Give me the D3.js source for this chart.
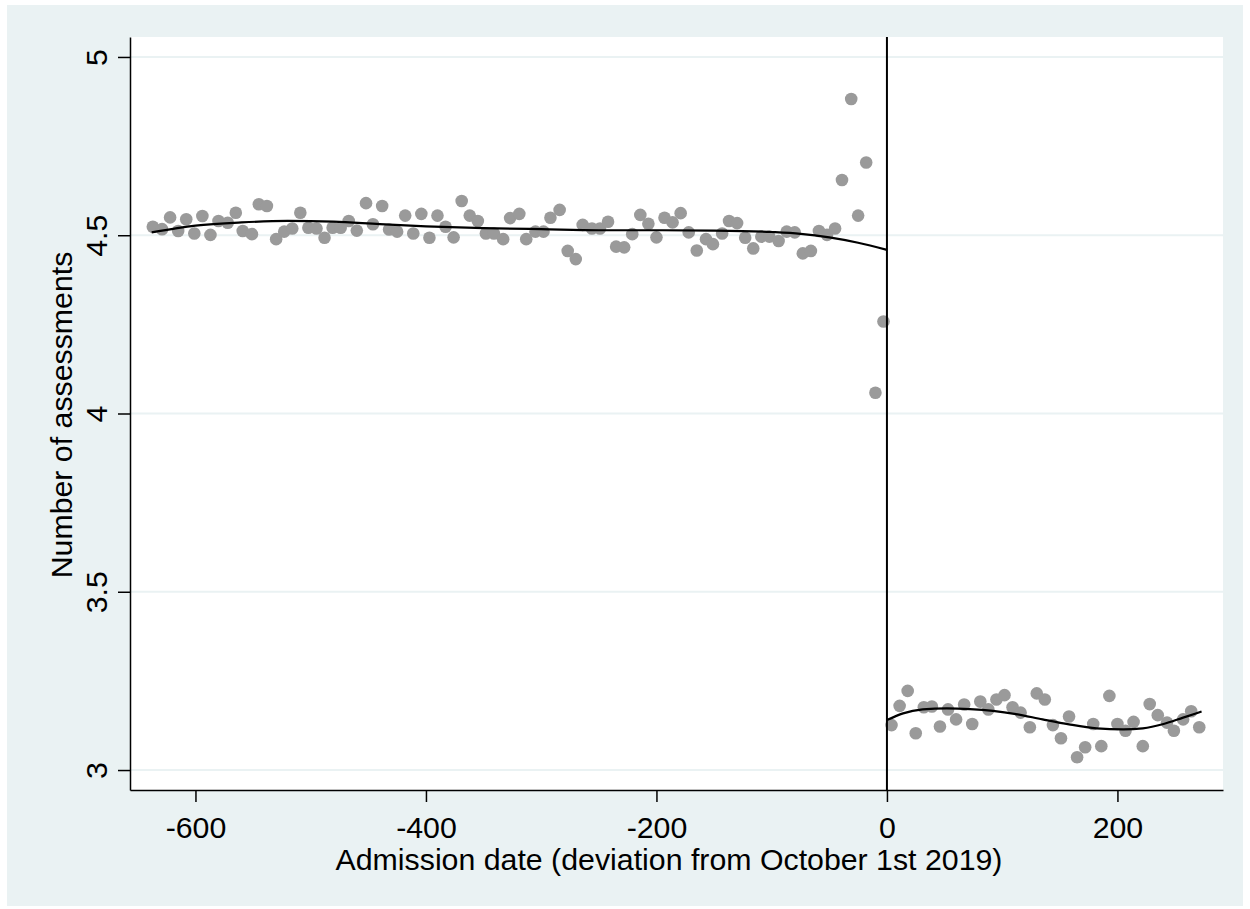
<!DOCTYPE html>
<html>
<head>
<meta charset="utf-8">
<script src="https://cdn.jsdelivr.net/npm/d3@7"></script>
<style>
  body { margin: 0; background: #ffffff; }
  text { font-family: "Liberation Sans", Arial, sans-serif; }
</style>
</head>
<body>
<div id="chart"></div>
<script>
// weekly bins before October 1st 2019 (days)
var preDays = [-637,-629,-622,-615,-608,-601,-594,-587,-580,-572,
    -565,-559,-551,-545,-538,-530,-523,-516,-509,-502,
    -495,-488,-481,-474,-467,-460,-452,-446,-438,-432,
    -425,-418,-411,-404,-397,-390,-383,-376,-369,-362,
    -355,-348,-341,-333,-327,-319,-313,-305,-298,-292,
    -284,-277,-270,-264,-256,-249,-242,-235,-228,-221,
    -214,-207,-200,-193,-186,-179,-172,-165,-157,-151,
    -143,-137,-130,-123,-116,-109,-102,-94,-87,-80,
    -73,-66,-59,-52,-45,-39,-31,-25,-18,-10,
    -3];
var preValues = [4.524,4.517,4.550,4.512,4.545,4.505,4.554,4.501,4.540,4.535,
    4.563,4.512,4.503,4.587,4.582,4.489,4.510,4.519,4.563,4.521,
    4.519,4.493,4.521,4.521,4.540,4.513,4.590,4.531,4.582,4.516,
    4.510,4.555,4.505,4.560,4.493,4.555,4.524,4.494,4.596,4.555,
    4.540,4.505,4.505,4.489,4.548,4.560,4.489,4.510,4.510,4.549,
    4.571,4.456,4.433,4.529,4.519,4.519,4.538,4.468,4.466,4.503,
    4.557,4.532,4.494,4.549,4.536,4.562,4.508,4.457,4.489,4.475,
    4.505,4.540,4.534,4.493,4.463,4.496,4.496,4.484,4.510,4.508,
    4.449,4.456,4.512,4.501,4.519,4.655,4.882,4.555,4.704,4.058,
    4.258];

// weekly bins after
var postDays = [4,11,18,25,32,39,46,53,60,67,
    74,81,88,95,102,109,116,124,130,137,
    144,151,158,165,172,179,186,193,200,207,
    214,222,228,235,243,249,257,264,271];
var postValues = [3.126,3.180,3.222,3.103,3.176,3.178,3.122,3.170,3.142,3.184,
    3.129,3.192,3.170,3.198,3.210,3.176,3.161,3.120,3.215,3.198,
    3.126,3.089,3.150,3.036,3.064,3.129,3.067,3.208,3.129,3.110,
    3.135,3.067,3.185,3.154,3.133,3.110,3.142,3.165,3.120];

// fitted curves
var preFitDays = [-638,-600,-560,-520,-480,-440,-400,-350,-300,-250,-200,-150,-100,-75,-50,-25,0];
var preFitValues = [4.508,4.527,4.536,4.540,4.538,4.531,4.525,4.520,4.517,4.514,4.514,4.513,4.509,4.504,4.494,4.479,4.459];
var postFitDays = [0,14,31,52,72,92,112,135,158,182,205,222,240,257,273];
var postFitValues = [3.140,3.159,3.170,3.173,3.171,3.166,3.157,3.142,3.128,3.117,3.114,3.117,3.129,3.147,3.164];

var xTicks = [-600, -400, -200, 0, 200];
var yTicks = [3, 3.5, 4, 4.5, 5];

var W = 1250, H = 909;
var margin = { top: 37, right: 27, bottom: 119, left: 130 },
    width = W - margin.left - margin.right,
    height = H - margin.top - margin.bottom;

var svg = d3.select("#chart")
    .append("svg")
    .attr("width", W)
    .attr("height", H);

// outer graph region
svg.append("rect")
    .attr("x", 7).attr("y", 5)
    .attr("width", W - 14).attr("height", H - 8)
    .attr("fill", "#eaf2f3");

var g = svg.append("g")
    .attr("transform", "translate(" + margin.left + "," + margin.top + ")");

g.append("rect")
    .attr("width", width)
    .attr("height", height)
    .attr("fill", "#ffffff");

var x = d3.scaleLinear()
    .domain([-656.8, 291.6])
    .range([0, width]);

var y = d3.scaleLinear()
    .domain([2.944, 5.056])
    .range([height, 0]);

// gridlines
g.append("g")
    .selectAll("line")
    .data(yTicks)
    .enter().append("line")
    .attr("x1", 0)
    .attr("x2", width)
    .attr("y1", function (d) { return y(d); })
    .attr("y2", function (d) { return y(d); })
    .attr("stroke", "#eaf2f3")
    .attr("stroke-width", 2);

var pre = preDays.map(function (d, i) { return { day: d, value: preValues[i] }; });
var post = postDays.map(function (d, i) { return { day: d, value: postValues[i] }; });

g.append("g")
    .selectAll("circle")
    .data(pre.concat(post))
    .enter().append("circle")
    .attr("cx", function (d) { return x(d.day); })
    .attr("cy", function (d) { return y(d.value); })
    .attr("r", 6.3)
    .attr("fill", "#9a9a9a");

var line = d3.line()
    .x(function (d) { return x(d.day); })
    .y(function (d) { return y(d.value); })
    .curve(d3.curveMonotoneX);

var preFit = preFitDays.map(function (d, i) { return { day: d, value: preFitValues[i] }; });
var postFit = postFitDays.map(function (d, i) { return { day: d, value: postFitValues[i] }; });

[preFit, postFit].forEach(function (f) {
    g.append("path")
        .datum(f)
        .attr("fill", "none")
        .attr("stroke", "#000000")
        .attr("stroke-width", 2.2)
        .attr("d", line);
});

// cutoff line
g.append("line")
    .attr("x1", x(0)).attr("x2", x(0))
    .attr("y1", 0).attr("y2", height)
    .attr("stroke", "#000000")
    .attr("stroke-width", 2);

// axes (plain hyphen for negatives, like the original)
var plain = function (d) { return String(d); };

var xAxis = g.append("g")
    .attr("transform", "translate(0," + height + ")")
    .call(d3.axisBottom(x).tickValues(xTicks).tickSize(12).tickSizeOuter(0).tickPadding(14).tickFormat(plain));

var yAxis = g.append("g")
    .call(d3.axisLeft(y).tickValues(yTicks).tickSize(12).tickSizeOuter(0).tickFormat(plain));

yAxis.selectAll(".tick text")
    .attr("x", 0)
    .attr("dy", 0)
    .attr("text-anchor", "middle")
    .attr("transform", "translate(-23,0) rotate(-90)");

[xAxis, yAxis].forEach(function (a) {
    a.select(".domain").attr("stroke", "#000000").attr("stroke-width", 1.5);
    a.selectAll(".tick line").attr("stroke", "#000000").attr("stroke-width", 1.5);
    a.selectAll(".tick text")
        .attr("fill", "#000000")
        .style("font-size", "30.3px")
        .style("font-family", "'Liberation Sans', Arial, sans-serif");
});

svg.append("text")
    .attr("x", 669)
    .attr("y", 870)
    .attr("text-anchor", "middle")
    .style("font-size", "30.3px")
    .text("Admission date (deviation from October 1st 2019)");

svg.append("text")
    .attr("transform", "translate(72,415) rotate(-90)")
    .attr("text-anchor", "middle")
    .style("font-size", "30.3px")
    .text("Number of assessments");
</script>
</body>
</html>
